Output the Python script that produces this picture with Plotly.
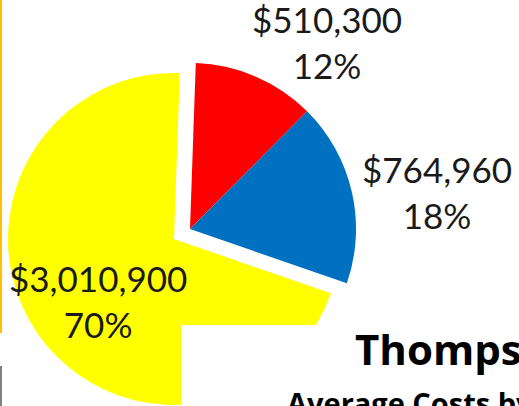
import plotly.graph_objects as go

# ---- data ----
categories = ["Category A", "Category B", "Category C"]
costs = [510300, 764960, 3010900]
slice_colors = ["#FF0000", "#0070C0", "#FFFF00"]
title_text = "Thompson"
subtitle_text = "Average Costs by Category"

W, H = 519, 406
total = sum(costs)
label_texts = [f"${v:,.0f}<br>{round(100 * v / total)}%" for v in costs]

def px_x(v):
    return v / W

def px_y(v):
    return 1 - v / H

fig = go.Figure()

# red + blue slices (yellow transparent)
fig.add_trace(go.Pie(
    labels=categories, values=costs, sort=False, direction="clockwise",
    rotation=2,
    marker=dict(colors=[slice_colors[0], slice_colors[1], "rgba(0,0,0,0)"],
                line=dict(width=0)),
    textinfo="none", hoverinfo="label+value+percent", showlegend=False,
    domain=dict(x=[px_x(24), px_x(356)], y=[px_y(395), px_y(63)]),
))
# yellow slice, exploded (drawn offset)
fig.add_trace(go.Pie(
    labels=categories, values=costs, sort=False, direction="clockwise",
    rotation=2,
    marker=dict(colors=["rgba(0,0,0,0)", "rgba(0,0,0,0)", slice_colors[2]],
                line=dict(width=0)),
    textinfo="none", hoverinfo="label+value+percent", showlegend=False,
    domain=dict(x=[px_x(8), px_x(340)], y=[px_y(405), px_y(73)]),
))

label_pos = [(327, 42), (437, 192), (98, 301)]
annotations = []
for txt, (lx, ly) in zip(label_texts, label_pos):
    annotations.append(dict(
        text=txt, x=px_x(lx), y=px_y(ly), xref="paper", yref="paper",
        xanchor="center", yanchor="middle", showarrow=False, align="center",
        font=dict(family="Lato", size=35, color="#1a1a1a"),
    ))

annotations.append(dict(
    text=f"<b>{title_text}</b>", x=px_x(353), y=px_y(348), xref="paper", yref="paper",
    xanchor="left", yanchor="middle", showarrow=False,
    font=dict(family="Open Sans", size=42, color="#000000"),
))
annotations.append(dict(
    text=f"<b>{subtitle_text}</b>", x=px_x(285), y=px_y(402), xref="paper", yref="paper",
    xanchor="left", yanchor="middle", showarrow=False,
    font=dict(family="Open Sans", size=29, color="#000000"),
))

shapes = [
    dict(type="rect", xref="paper", yref="paper", x0=px_x(181), x1=1.02,
         y0=-0.02, y1=px_y(325), fillcolor="white", line=dict(width=0), layer="above"),
    dict(type="rect", xref="paper", yref="paper", x0=0, x1=px_x(2),
         y0=px_y(333), y1=1, fillcolor="#FFC000", line=dict(width=0), layer="above"),
    dict(type="rect", xref="paper", yref="paper", x0=0, x1=px_x(2),
         y0=0, y1=px_y(366), fillcolor="#808080", line=dict(width=0), layer="above"),
]

fig.update_layout(
    width=W, height=H, margin=dict(l=0, r=0, t=0, b=0),
    paper_bgcolor="white", plot_bgcolor="white",
    annotations=annotations, shapes=shapes, showlegend=False,
)

fig.write_html(
    "out.html",
    config={"displayModeBar": False},
    post_script="document.body.style.margin='0';document.body.style.overflow='hidden';",
)
